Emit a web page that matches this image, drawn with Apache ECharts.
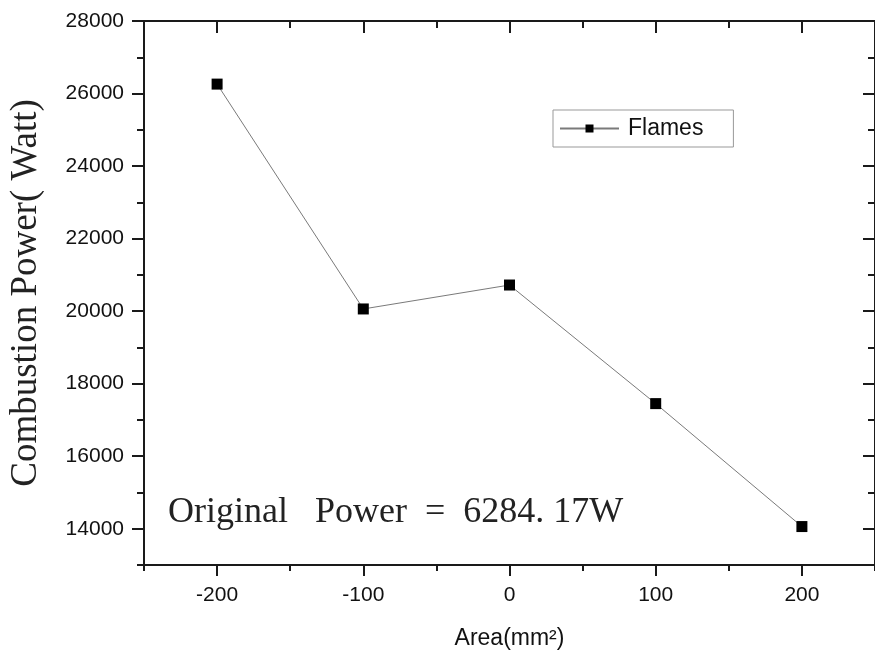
<!DOCTYPE html>
<html>
<head>
<meta charset="utf-8">
<script src="https://cdn.jsdelivr.net/npm/echarts@6/dist/echarts.min.js"></script>
<style>
  html, body { margin: 0; padding: 0; background: #fff; }
  #chart { width: 875px; height: 655px; }
</style>
</head>
<body>
<div id="chart"></div>
<script>
  // data
  var areas = [-200, -100, 0, 100, 200]
  var power = [26260, 20060, 20720, 17450, 14060]
  var xMajor = [-200, -100, 0, 100, 200]
  var xMinor = [-250, -150, -50, 50, 150, 250]
  var yMajor = [14000, 16000, 18000, 20000, 22000, 24000, 26000, 28000]
  var yMinor = [13000, 15000, 17000, 19000, 21000, 23000, 25000, 27000]

  var axisColor = '#1a1a1a'
  var sans = 'Liberation Sans, Arial, sans-serif'
  var serif = 'Liberation Serif, Times New Roman, serif'

  function xAx (pos, ticks, len, inside, labels){
    return {
      type: 'value', position: pos, min: -250, max: 250,
      axisLine: {show: true, onZero: false, lineStyle: {color: axisColor, width: 2}},
      axisTick: {show: true, customValues: ticks, length: len, inside: inside,
        lineStyle: {color: axisColor, width: 2}},
      axisLabel: labels ? {customValues: ticks, margin: 20, fontSize: 21,
        fontFamily: sans, color: '#111', formatter: function (v){ return String(v) }} : {show: false},
      splitLine: {show: false},
    }
  }
  function yAx (pos, ticks, len, inside, labels){
    return {
      type: 'value', position: pos, min: 13000, max: 28000,
      axisLine: {show: true, onZero: false, lineStyle: {color: axisColor, width: 2}},
      axisTick: {show: true, customValues: ticks, length: len, inside: inside,
        lineStyle: {color: axisColor, width: 2}},
      axisLabel: labels ? {customValues: ticks, margin: 20, fontSize: 21,
        fontFamily: sans, color: '#111', formatter: function (v){ return String(v) }} : {show: false},
      splitLine: {show: false},
    }
  }

  var xAxes = [
    xAx('bottom', xMajor, 11, false, true),
    xAx('bottom', xMinor, 6, false, false),
    xAx('top', xMajor, 12, true, false),
    xAx('top', xMinor, 7, true, false),
  ]
  xAxes[0].name = 'Area(mm²)'
  xAxes[0].nameLocation = 'middle'
  xAxes[0].nameGap = 62
  xAxes[0].nameTextStyle = {fontSize: 23, fontFamily: sans, color: '#111'}

  var yAxes = [
    yAx('left', yMajor, 12, false, true),
    yAx('left', yMinor, 7, false, false),
    yAx('right', yMajor, 12, true, false),
    yAx('right', yMinor, 7, true, false),
  ]
  yAxes[0].name = 'Combustion Power( Watt)'
  yAxes[0].nameLocation = 'middle'
  yAxes[0].nameGap = 99
  yAxes[0].nameTextStyle = {fontSize: 37, fontFamily: serif, color: '#222'}

  var chart = echarts.init(document.getElementById('chart'))
  var option = {
    backgroundColor: '#fff',
    animation: false,
    grid: {left: 142, right: -2, top: 21, bottom: 89, containLabel: false},
    legend: {
      left: 553, top: 110,
      padding: [7, 30, 7, 6],
      borderColor: '#999', borderWidth: 1,
      itemWidth: 59, itemHeight: 10,
      textStyle: {fontSize: 23, fontFamily: sans, color: '#111', padding: [0, 0, 0, 4]},
      data: ['Flames'],
    },
    xAxis: xAxes,
    yAxis: yAxes,
    graphic: [{
      type: 'text', left: 168, top: 495,
      style: {text: 'Original   Power  =  6284. 17W', fontSize: 36, fontFamily: serif, fill: '#222'},
    }],
    series: [{
      name: 'Flames',
      type: 'line',
      xAxisIndex: 0, yAxisIndex: 0,
      data: areas.map(function (a, i){ return [a, power[i]] }),
      symbol: 'rect', symbolSize: 11,
      itemStyle: {color: '#000'},
      lineStyle: {color: '#7a7a7a', width: 1},
    }],
  }
  chart.setOption(option)
</script>
</body>
</html>
